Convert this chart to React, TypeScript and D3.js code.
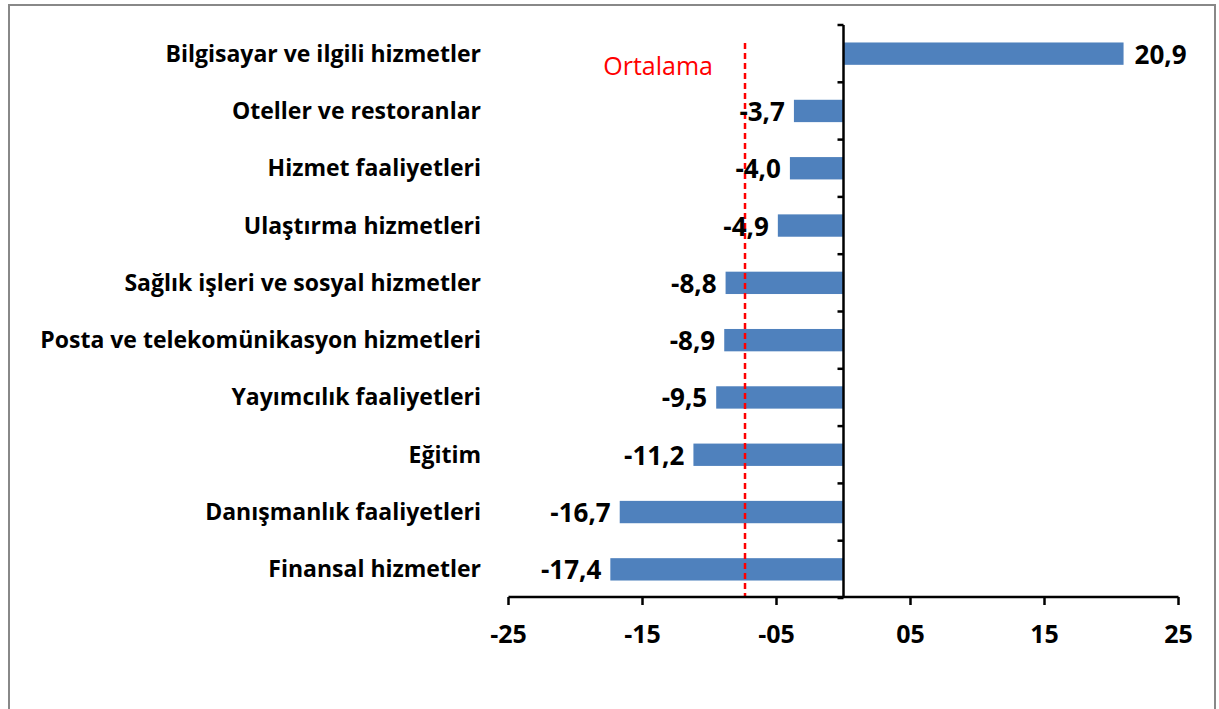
import React from "react";
import * as d3 from "d3";

const categories = [
  "Bilgisayar ve ilgili hizmetler",
  "Oteller ve restoranlar",
  "Hizmet faaliyetleri",
  "Ulaştırma hizmetleri",
  "Sağlık işleri ve sosyal hizmetler",
  "Posta ve telekomünikasyon hizmetleri",
  "Yayımcılık faaliyetleri",
  "Eğitim",
  "Danışmanlık faaliyetleri",
  "Finansal hizmetler",
];
const values = [20.9, -3.7, -4.0, -4.9, -8.8, -8.9, -9.5, -11.2, -16.7, -17.4];
const xTicks = [-25, -15, -5, 5, 15, 25];
const xTickLabels = ["-25", "-15", "-05", "05", "15", "25"];
const average = -7.35;
const averageLabel = "Ortalama";

const W = 1219;
const H = 709;
const FONT = "'Open Sans', 'Noto Sans', sans-serif";

export default function App() {
  const x = d3.scaleLinear().domain([-25, 25]).range([508.5, 1178.5]);
  const y = d3.scaleBand<string>().domain(categories).range([25, 598]).paddingInner(0.61).paddingOuter(0.305);
  const band = (y.range()[1] - y.range()[0]) / categories.length;
  const x0 = x(0);
  const fmt = (v: number) => v.toFixed(1).replace(".", ",");
  const mid = (c: string) => y(c)! + y.bandwidth() / 2;

  return (
    <svg width={W} height={H} style={{ position: "fixed", left: 0, top: 0, background: "#fff" }}>
      <rect x={9} y={5} width={1206} height={720} fill="#fff" stroke="#888" strokeWidth={2} />

      {/* bars */}
      {categories.map((c, i) => {
        const v = values[i];
        return (
          <rect
            key={c}
            x={Math.min(x(v), x0)}
            y={y(c)!}
            width={Math.abs(x(v) - x0)}
            height={y.bandwidth()}
            fill="#4F81BD"
          />
        );
      })}

      {/* average line */}
      <line
        x1={x(average)}
        x2={x(average)}
        y1={43}
        y2={598}
        stroke="#FF0000"
        strokeWidth={2.5}
        strokeDasharray="6,4"
      />
      <text x={713} y={75} textAnchor="end"
        fontFamily={FONT} fontSize={25} fill="#FF0000">{averageLabel}</text>

      {/* y axis */}
      <line x1={x0} x2={x0} y1={25} y2={598} stroke="#000" strokeWidth={2.5} />
      {d3.range(categories.length + 1).map((i) => (
        <line key={i} x1={x0 - 6} x2={x0} y1={25 + i * band} y2={25 + i * band} stroke="#000" strokeWidth={2.5} />
      ))}

      {/* x axis */}
      <line x1={x(-25)} x2={x(25)} y1={597} y2={597} stroke="#000" strokeWidth={2.5} />
      {xTicks.map((t, i) => (
        <g key={t}>
          <line x1={x(t)} x2={x(t)} y1={597} y2={605} stroke="#000" strokeWidth={2.5} />
          <text x={x(t)} y={643} textAnchor="middle"
            fontFamily={FONT} fontWeight="bold" fontSize={25} fill="#000">{xTickLabels[i]}</text>
        </g>
      ))}

      {/* category labels */}
      {categories.map((c) => (
        <text key={c} x={481} y={mid(c) + 8} textAnchor="end"
          fontFamily={FONT} fontWeight="bold" fontSize={23} fill="#000">{c}</text>
      ))}

      {/* value labels */}
      {categories.map((c, i) => {
        const v = values[i];
        const pos = v >= 0;
        return (
          <text key={c} x={pos ? x(v) + 11 : x(v) - 9} y={mid(c) + 10}
            textAnchor={pos ? "start" : "end"}
            fontFamily={FONT} fontWeight="bold" fontSize={26} fill="#000">{fmt(v)}</text>
        );
      })}
    </svg>
  );
}
